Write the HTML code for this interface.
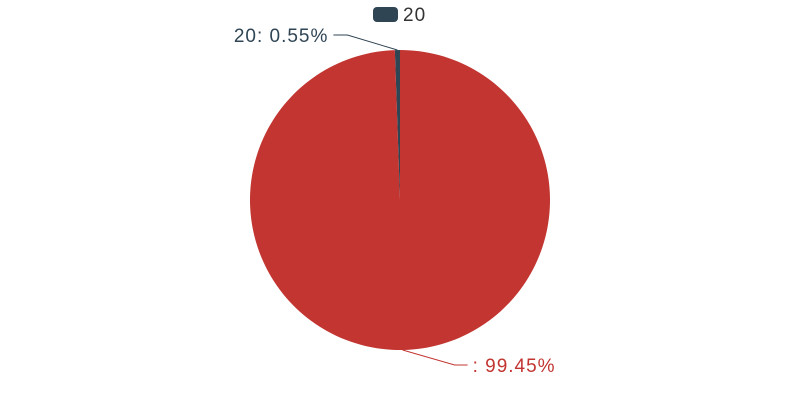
<!DOCTYPE html>
<html><head><meta charset="utf-8"><style>
body{margin:0;background:#fff;}
svg{display:block;font-family:"Liberation Sans",sans-serif;}
text{letter-spacing:1px;}
</style></head><body>
<svg id="chart" width="800" height="400">
  <g>
    <rect x="373" y="7" width="25" height="15" rx="4" fill="#2f4554"></rect>
    <text x="403" y="21" font-size="19" fill="#333">20</text>
  </g>
  <g id="slices"></g>
  <g id="labels"></g>
</svg>
<script>
const categories = ["20", ""];
const values = [0.55, 99.45];
const colors = ["#2f4554", "#c23531"];
const cx = 400, cy = 200, R = 150;
const NS = "http://www.w3.org/2000/svg";
const total = values.reduce((a, b) => a + b, 0);
const slicesG = document.getElementById('slices');
const labelsG = document.getElementById('labels');
function pt(a, r) { return [cx - r * Math.sin(a), cy - r * Math.cos(a)]; }
let start = 0;
values.forEach((v, i) => {
  const sweep = v / total * Math.PI * 2;
  const end = start + sweep;
  const p0 = pt(start, R), p1 = pt(end, R);
  const large = sweep > Math.PI ? 1 : 0;
  const path = document.createElementNS(NS, 'path');
  path.setAttribute('d', `M${cx},${cy} L${p0[0]},${p0[1]} A${R},${R} 0 ${large} 0 ${p1[0]},${p1[1]} Z`);
  path.setAttribute('fill', colors[i]);
  
  
  slicesG.appendChild(path);
  const mid = start + sweep / 2;
  const a = pt(mid, R);
  const left = Math.sin(mid) > 0;
  const top = Math.cos(mid) > 0;
  const bx = a[0] + (left ? -50 : 52);
  const by = top ? 35 : 365;
  const ex = bx + (left ? -14 : 13);
  const line = document.createElementNS(NS, 'polyline');
  line.setAttribute('points', `${a[0]},${a[1]} ${bx},${by} ${ex},${by}`);
  line.setAttribute('fill', 'none');
  line.setAttribute('stroke', colors[i]);
  
  
  labelsG.appendChild(line);
  const t = document.createElementNS(NS, 'text');
  t.setAttribute('x', ex + (left ? -5 : 5));
  t.setAttribute('y', by + 7);
  t.setAttribute('font-size', '19');
  t.setAttribute('fill', colors[i]);
  t.setAttribute('text-anchor', left ? 'end' : 'start');
  t.textContent = categories[i] + ': ' + (v / total * 100).toFixed(2) + '%';
  
  
  labelsG.appendChild(t);
  start = end;
});
</script>
</body></html>
